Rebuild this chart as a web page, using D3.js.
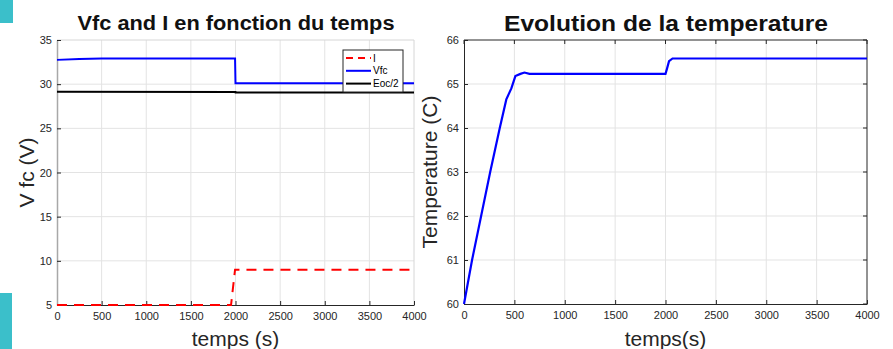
<!DOCTYPE html>
<html>
<head>
<meta charset="utf-8">
<script src="https://cdn.jsdelivr.net/npm/d3@7"></script>
<style>
  body { margin: 0; background: #fff; }
  svg { display: block; font-family: "Liberation Sans", Arial, sans-serif; }
</style>
</head>
<body>
<svg id="chart" width="893" height="349"></svg>
<script>
// left panel data
const vfcT = [0, 250, 500, 1995, 2000, 4000];
const vfcV = [32.75, 32.85, 32.9, 32.9, 30.1, 30.1];
const eocT = [0, 2000, 2001, 4000];
const eocV = [29.15, 29.12, 29.05, 29.05];
const curT = [0, 1950, 1995, 4000];
const curV = [5, 5, 9, 9];
// right panel data
const tempT = [0, 80, 170, 260, 355, 420, 470, 510, 560, 600, 650, 2000, 2015, 2035, 2070, 4000];
const tempV = [60, 61, 62, 63, 64, 64.65, 64.9, 65.18, 65.23, 65.26, 65.23, 65.23, 65.35, 65.52, 65.58, 65.58];

const xTicks = [0, 500, 1000, 1500, 2000, 2500, 3000, 3500, 4000];
const leftYTicks = [5, 10, 15, 20, 25, 30, 35];
const rightYTicks = [60, 61, 62, 63, 64, 65, 66];

const svg = d3.select('#chart');
const grid = '#e3e3e3', ink = '#262626';

// teal decorations at the page edge
svg.append('rect').attr('x', 0).attr('y', 0).attr('width', 13).attr('height', 23).attr('fill', '#3bbfca');
svg.append('rect').attr('x', 0).attr('y', 293).attr('width', 12).attr('height', 56).attr('fill', '#3bbfca');

function panel(opts) {
  const x = d3.scaleLinear().domain([0, 4000]).range([opts.x0, opts.x1]);
  const y = d3.scaleLinear().domain(opts.yDomain).range([opts.y1, opts.y0]);
  const g = svg.append('g');

  // grid
  g.append('g').selectAll('line').data(xTicks.slice(1, -1)).join('line')
    .attr('x1', d => x(d)).attr('x2', d => x(d))
    .attr('y1', opts.y0).attr('y2', opts.y1)
    .attr('stroke', grid).attr('stroke-width', 1);
  g.append('g').selectAll('line').data(opts.yTicks.slice(1, -1)).join('line')
    .attr('y1', d => y(d)).attr('y2', d => y(d))
    .attr('x1', opts.x0).attr('x2', opts.x1)
    .attr('stroke', grid).attr('stroke-width', 1);

  // box
  g.append('line').attr('x1', opts.x0).attr('x2', opts.x1).attr('y1', opts.y0).attr('y2', opts.y0)
    .attr('stroke', opts.box ? ink : '#d6d6d6');
  g.append('line').attr('x1', opts.x1).attr('x2', opts.x1).attr('y1', opts.y0).attr('y2', opts.y1)
    .attr('stroke', opts.box ? ink : '#d6d6d6');

  const fmt = d3.format('d');
  const xa = g.append('g').attr('transform', `translate(0,${opts.y1})`)
    .call(d3.axisBottom(x).tickValues(xTicks).tickFormat(fmt).tickSize(-4).tickPadding(7).tickSizeOuter(0));
  const ya = g.append('g').attr('transform', `translate(${opts.x0},0)`)
    .call(d3.axisLeft(y).tickValues(opts.yTicks).tickFormat(fmt).tickSize(-4).tickPadding(5).tickSizeOuter(0));
  [xa, ya].forEach(a => {
    a.selectAll('text').attr('fill', ink).style('font-size', '11px')
      .style('font-family', '"Liberation Sans", Arial, sans-serif');
    a.selectAll('line').attr('stroke', ink);
  });
  xa.select('.domain').attr('stroke', ink);
  ya.select('.domain').attr('stroke', opts.box ? ink : '#a8a8a8').attr('stroke-width', opts.box ? 1 : 1.5);

  if (opts.box) {
    // ticks on top and right
    g.append('g').selectAll('line').data(xTicks).join('line')
      .attr('x1', d => x(d)).attr('x2', d => x(d)).attr('y1', opts.y0).attr('y2', opts.y0 + 4)
      .attr('stroke', ink);
    g.append('g').selectAll('line').data(opts.yTicks).join('line')
      .attr('y1', d => y(d)).attr('y2', d => y(d)).attr('x1', opts.x1).attr('x2', opts.x1 - 4)
      .attr('stroke', ink);
  }

  // titles
  svg.append('text').attr('x', opts.titleX).attr('y', opts.titleY)
    .attr('text-anchor', 'middle').style('font-weight', 'bold').style('font-size', opts.titleSize)
    .attr('fill', '#111').attr('textLength', opts.titleLen).attr('lengthAdjust', 'spacingAndGlyphs')
    .text(opts.title);
  svg.append('text').attr('x', (opts.x0 + opts.x1) / 2).attr('y', 346)
    .attr('text-anchor', 'middle').style('font-size', '21px').attr('fill', ink).text(opts.xLabel);
  svg.append('text').attr('transform', `translate(${opts.yLabelX},${(opts.y0 + opts.y1) / 2}) rotate(-90)`)
    .attr('text-anchor', 'middle').style('font-size', '21px').attr('fill', ink).text(opts.yLabel);

  return {x, y, g};
}

const L = panel({
  x0: 57, x1: 414, y0: 40, y1: 305, yDomain: [5, 35], yTicks: leftYTicks, box: false,
  title: 'Vfc and I en fonction du temps', titleX: 236, titleY: 30, titleLen: 317, titleSize: '20px',
  xLabel: 'temps (s)', yLabel: 'V fc (V)', yLabelX: 34
});

const lineL = (ts, vs) => d3.line().x((d, i) => L.x(ts[i])).y((d, i) => L.y(vs[i]))(vs);
L.g.append('path').attr('d', lineL(eocT, eocV)).attr('fill', 'none').attr('stroke', '#000').attr('stroke-width', 2);
L.g.append('path').attr('d', lineL(vfcT, vfcV)).attr('fill', 'none').attr('stroke', '#0000ff').attr('stroke-width', 2);
L.g.append('path').attr('d', lineL(curT, curV)).attr('fill', 'none').attr('stroke', '#ff0000')
  .attr('stroke-width', 2).attr('stroke-dasharray', '10,7');

// legend
const leg = svg.append('g').attr('transform', 'translate(343,50)');
leg.append('rect').attr('width', 60).attr('height', 42).attr('fill', '#fff').attr('stroke', ink).attr('stroke-width', 1);
const items = [
  {name: 'I', color: '#ff0000', dash: '7,5'},
  {name: 'Vfc', color: '#0000ff', dash: null},
  {name: 'Eoc/2', color: '#000', dash: null}
];
items.forEach((it, i) => {
  const yy = 8 + i * 12.8;
  leg.append('line').attr('x1', 3).attr('x2', 28).attr('y1', yy).attr('y2', yy)
    .attr('stroke', it.color).attr('stroke-width', 2).attr('stroke-dasharray', it.dash);
  leg.append('text').attr('x', 30).attr('y', yy + 3.5).style('font-size', '10px').attr('fill', '#000').text(it.name);
});

const R = panel({
  x0: 464, x1: 867, y0: 40, y1: 304, yDomain: [60, 66], yTicks: rightYTicks, box: true,
  title: 'Evolution de la temperature', titleX: 666, titleY: 31, titleLen: 324, titleSize: '22px',
  xLabel: 'temps(s)', yLabel: 'Temperature (C)', yLabelX: 437
});
const lineR = d3.line().x((d, i) => R.x(tempT[i])).y((d, i) => R.y(tempV[i]));
R.g.append('path').attr('d', lineR(tempV)).attr('fill', 'none').attr('stroke', '#0000ff').attr('stroke-width', 2.2);
</script>
</body>
</html>
